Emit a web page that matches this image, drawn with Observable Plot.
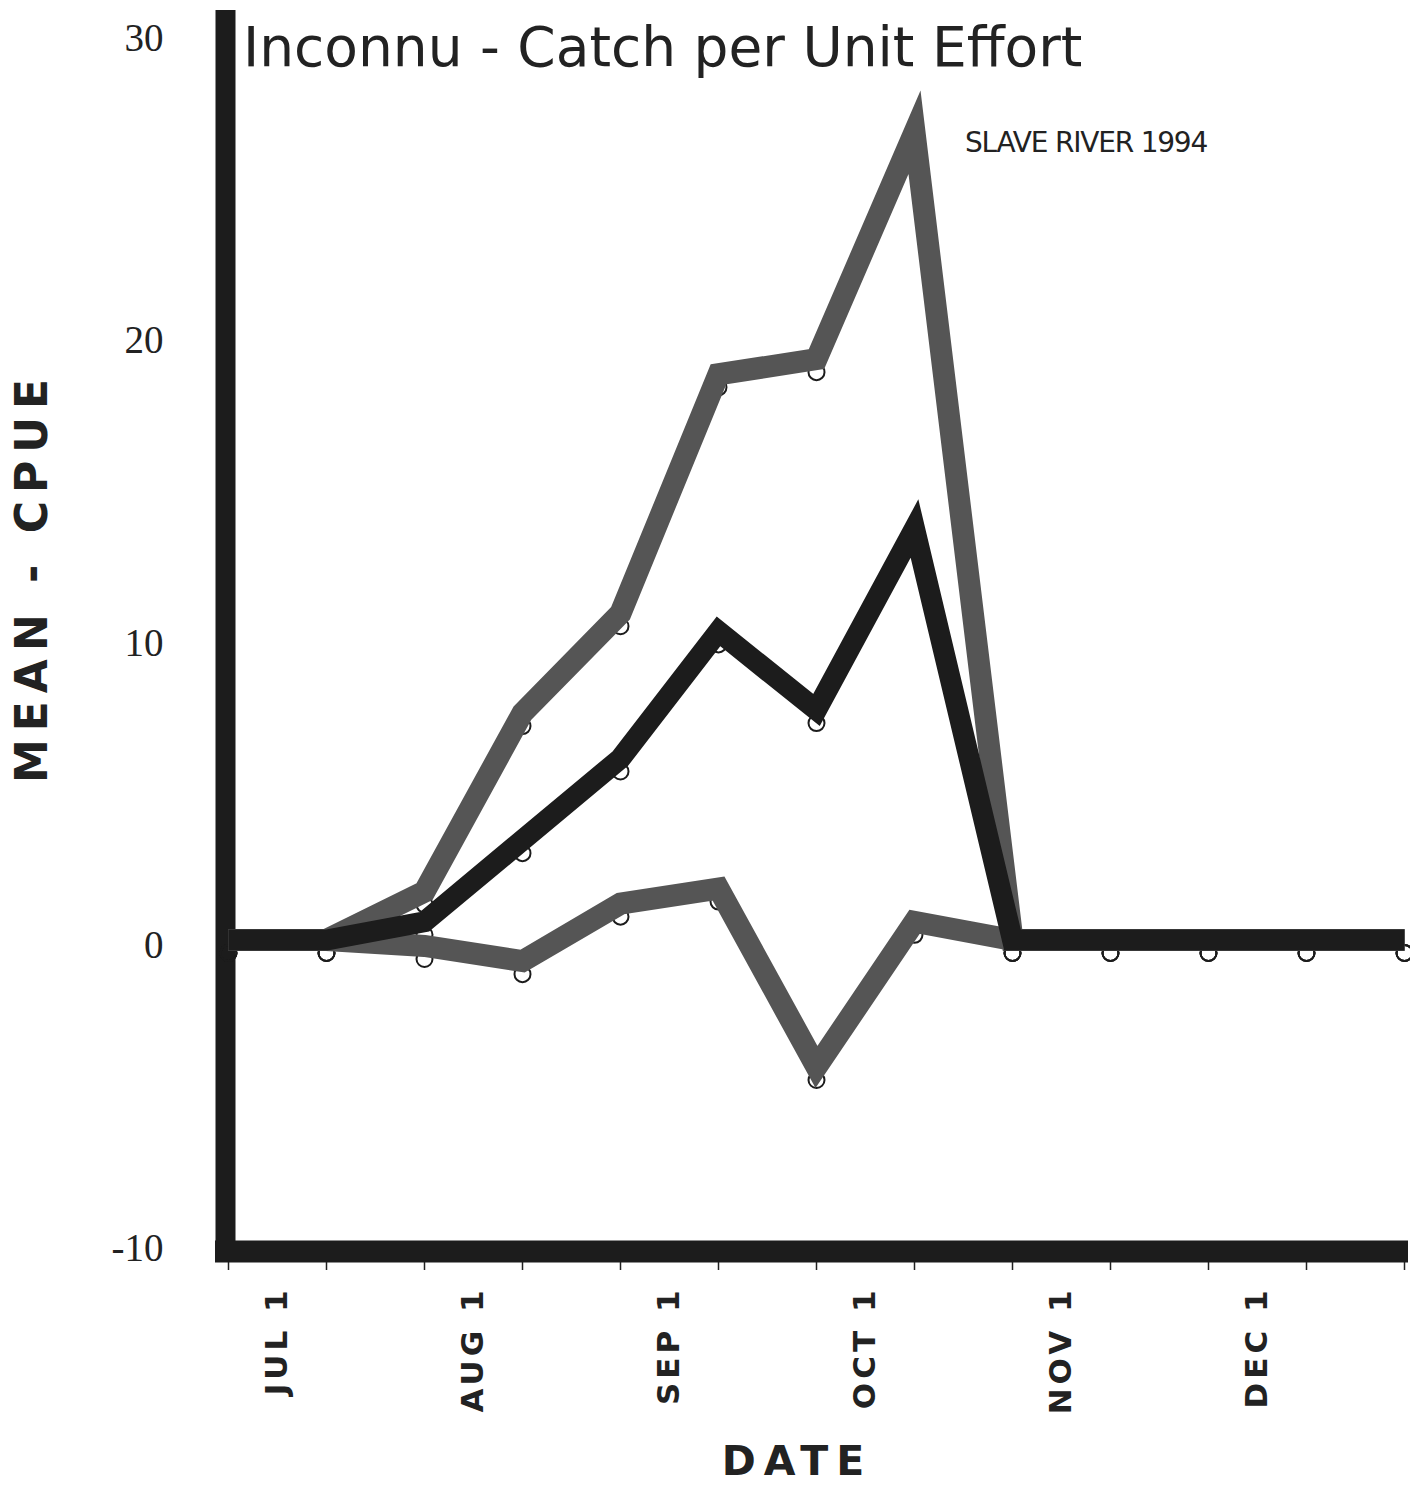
<!DOCTYPE html>
<html>
<head>
<meta charset="utf-8">
<script src="https://cdn.jsdelivr.net/npm/d3@7"></script>
<script src="https://cdn.jsdelivr.net/npm/@observablehq/plot@0.6"></script>
<style>
  html, body { margin: 0; padding: 0; background: #ffffff; }
  #wrap { position: relative; width: 1410px; height: 1485px; overflow: hidden; background: #fff; }
  #wrap svg { position: absolute; left: 0; top: 0; }
  .lbl { position: absolute; white-space: nowrap; line-height: 1; color: #222; }
  #title { left: 243px; top: 15px; font: 400 55px "DejaVu Sans", sans-serif; }
  #subtitle { left: 965px; top: 126px; font: 400 28px "DejaVu Sans", sans-serif; letter-spacing: -1.2px; }
  #ylabel { left: 31px; top: 581px; font: 700 44px "DejaVu Sans", sans-serif; letter-spacing: 8px; padding-left: 8px;
            transform: translate(-50%, -50%) rotate(-90deg); }
  #xlabel { left: 793px; top: 1442px; font: 700 41px "DejaVu Sans", sans-serif; letter-spacing: 8px; padding-left: 8px;
            line-height: 0.95; transform: translateX(-50%); }
  g[aria-label="x-axis tick label"] text { letter-spacing: 4px; }
</style>
</head>
<body>
<div id="wrap">
  <div class="lbl" id="title">Inconnu - Catch per Unit Effort</div>
  <div class="lbl" id="subtitle">SLAVE RIVER 1994</div>
  <div class="lbl" id="ylabel">MEAN - CPUE</div>
  <div class="lbl" id="xlabel">DATE</div>
</div>
<script>
// Sampling periods (semi-monthly), as positions along the date axis
const periods = [0, 1, 2, 3, 4, 5, 6, 7, 8, 9, 10, 11, 12];
// Mean CPUE (black line)
const meanCPUE  = [0.2, 0.2, 0.8, 3.5, 6.2, 10.4, 7.8, 13.8, 0.2, 0.2, 0.2, 0.2, 0.2];
// Upper bound (grey line)
const upperCPUE = [0.2, 0.2, 1.8, 7.7, 11.0, 18.9, 19.4, 26.9, 0.2, 0.2, 0.2, 0.2, 0.2];
// Lower bound (grey line)
const lowerCPUE = [0.2, 0.2, 0.0, -0.5, 1.4, 1.9, -4.0, 0.8, 0.2, 0.2, 0.2, 0.2, 0.2];
// Axis ticks
const yTicks = [-10, 0, 10, 20, 30];
const monthTickPos = [0.5, 2.5, 4.5, 6.5, 8.5, 10.5];
const monthLabels = ["JUL 1", "AUG 1", "SEP 1", "OCT 1", "NOV 1", "DEC 1"];

const rows = periods.map((p, i) => ({p, mean: meanCPUE[i], upper: upperCPUE[i], lower: lowerCPUE[i]}));
const labelMap = new Map(monthTickPos.map((t, i) => [t, monthLabels[i]]));

const GREY = "#555555";
const BLACK = "#1c1c1c";
const lineStyle = {x: "p", strokeLinejoin: "miter", strokeMiterlimit: 10, strokeLinecap: "butt"};
const dotStyle = {x: "p", r: 8, dy: 13, stroke: BLACK, strokeWidth: 2, fill: "none"};

const chart = Plot.plot({
  width: 1410,
  height: 1485,
  marginLeft: 228,
  marginRight: 6,
  marginTop: 38,
  marginBottom: 237,
  x: {domain: [0, 12]},
  y: {domain: [-10, 30]},
  style: {background: "transparent", color: "#222"},
  marks: [
    Plot.axisY({ticks: yTicks, tickSize: 0, tickPadding: 65, label: null, tickFormat: d => String(d),
      fontSize: 39, fontFamily: "Liberation Serif, Times New Roman, serif"}),
    Plot.axisX({ticks: periods, tickSize: 22, tickFormat: () => "", label: null, strokeWidth: 1.5}),
    Plot.axisX({ticks: monthTickPos, tickSize: 0, tickPadding: 38, tickRotate: -90, label: null,
      tickFormat: d => labelMap.get(d), fontSize: 31, fontWeight: "bold", fontFamily: "DejaVu Sans, sans-serif"}),
    Plot.ruleX([0], {stroke: BLACK, strokeWidth: 20, dx: -3, insetTop: -28, insetBottom: -14}),
    Plot.ruleY([-10], {stroke: BLACK, strokeWidth: 22, dy: 3, insetLeft: -13, insetRight: -4}),
    Plot.dot(rows, {...dotStyle, y: "upper"}),
    Plot.dot(rows, {...dotStyle, y: "lower"}),
    Plot.dot(rows, {...dotStyle, y: "mean"}),
    Plot.line(rows, {...lineStyle, y: "upper", stroke: GREY, strokeWidth: 22}),
    Plot.line(rows, {...lineStyle, y: "lower", stroke: GREY, strokeWidth: 22}),
    Plot.line(rows, {...lineStyle, y: "mean", stroke: BLACK, strokeWidth: 21})
  ]
});
document.getElementById("wrap").prepend(chart);
</script>
</body>
</html>
